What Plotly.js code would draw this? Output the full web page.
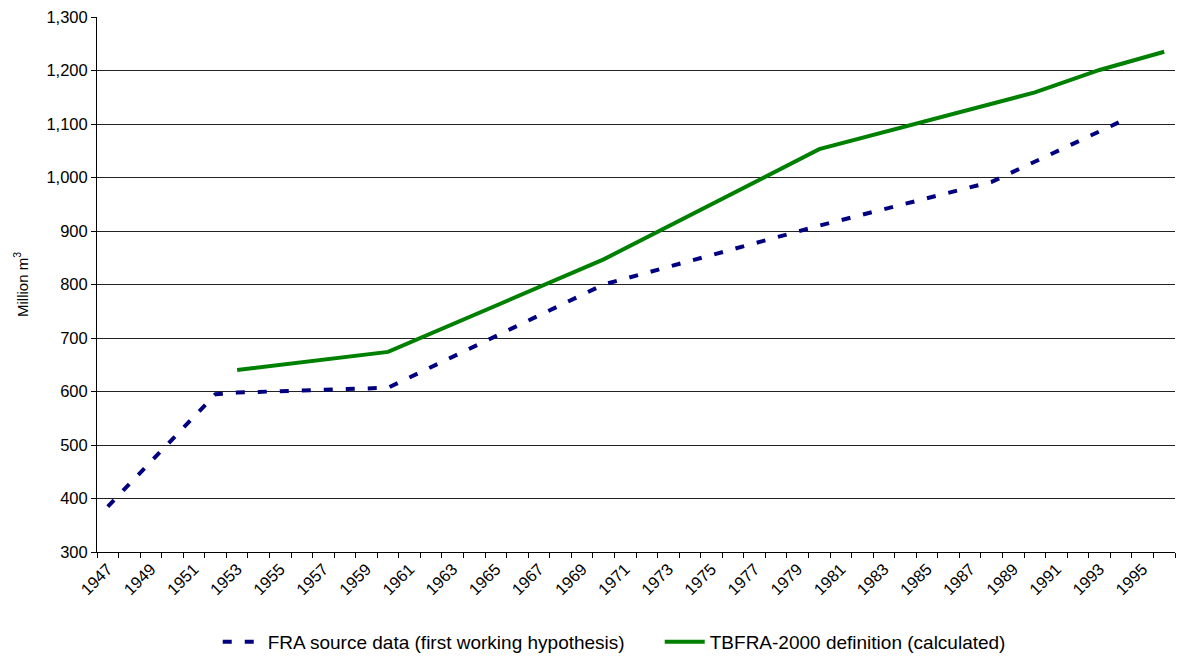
<!DOCTYPE html>
<html>
<head>
<meta charset="utf-8">
<script src="https://cdn.plot.ly/plotly-3.0.1.min.js"></script>
<style>html,body{margin:0;padding:0;background:#fff;}#chart{width:1177px;height:657px;}</style>
</head>
<body>
<div id="chart"></div>
<script>
// Years 1947..1996 (category positions)
const years = [1947,1948,1949,1950,1951,1952,1953,1954,1955,1956,1957,1958,1959,1960,1961,1962,1963,1964,1965,1966,1967,1968,1969,1970,1971,1972,1973,1974,1975,1976,1977,1978,1979,1980,1981,1982,1983,1984,1985,1986,1987,1988,1989,1990,1991,1992,1993,1994,1995,1996];
// FRA source data (first working hypothesis) – read at break points
const fraYears  = [1947, 1952, 1953, 1960, 1970, 1980, 1988, 1994];
const fraValues = [385,  595,  598,  607,  800,  910,  992,  1105];
// TBFRA-2000 definition (calculated)
const tbYears  = [1953, 1960, 1970, 1980, 1990, 1993, 1996];
const tbValues = [640,  674,  847,  1053, 1159, 1201, 1235];
const tickYears = [1947,1949,1951,1953,1955,1957,1959,1961,1963,1965,1967,1969,1971,1973,1975,1977,1979,1981,1983,1985,1987,1989,1991,1993,1995];
const seriesNames = ['FRA source data (first working hypothesis)', 'TBFRA-2000 definition (calculated)'];

const font = 'Liberation Sans, Arial, sans-serif';
const traces = [
  {x: fraYears, y: fraValues, name: seriesNames[0], mode: 'lines', type: 'scatter',
   line: {color: '#000080', width: 4, dash: '9px,13px'}},
  {x: tbYears, y: tbValues, name: seriesNames[1], mode: 'lines', type: 'scatter',
   line: {color: '#008000', width: 4}}
];
const layout = {
  width: 1177, height: 657,
  margin: {l: 97, r: 2, t: 17, b: 105, autoexpand: false},
  paper_bgcolor: '#fff', plot_bgcolor: '#fff',
  font: {family: font, size: 16.5, color: '#000'},
  showlegend: true,
  legend: {orientation: 'h', xref: 'container', yref: 'container',
           x: 0.185, xanchor: 'left', y: 0.0228, yanchor: 'middle',
           font: {family: font, size: 19, color: '#000'}, itemwidth: 40, tracegroupgap: 0,
           entrywidth: 387, entrywidthmode: 'pixels'},
  xaxis: {
    type: 'linear', range: [years[0] - 0.5, years[years.length - 1] + 0.5],
    tickmode: 'array', tickvals: tickYears, ticktext: tickYears.map(String),
    tickangle: -45, ticks: '', showgrid: false, zeroline: false, automargin: false,
    showline: true, linecolor: '#000', linewidth: 1,
    tickfont: {family: font, size: 16.5, color: '#000'},
    minor: {tickmode: 'linear', tick0: years[0] - 0.5, dtick: 1, ticks: 'outside', ticklen: 5, tickcolor: '#000', tickwidth: 1, showgrid: false}
  },
  yaxis: {
    range: [300, 1300], dtick: 100, tick0: 300, tickformat: ',d', automargin: false,
    ticks: 'outside', ticklen: 5, tickcolor: '#000',
    showgrid: true, gridcolor: '#222', gridwidth: 1, zeroline: false,
    showline: true, linecolor: '#000', linewidth: 1,
    tickfont: {family: font, size: 16.5, color: '#000'},
    title: {text: 'Million m<sup>3</sup>', font: {family: font, size: 15, color: '#000'}, standoff: 14}
  }
};
Plotly.newPlot('chart', traces, layout, {displayModeBar: false, staticPlot: true});
</script>
</body>
</html>
